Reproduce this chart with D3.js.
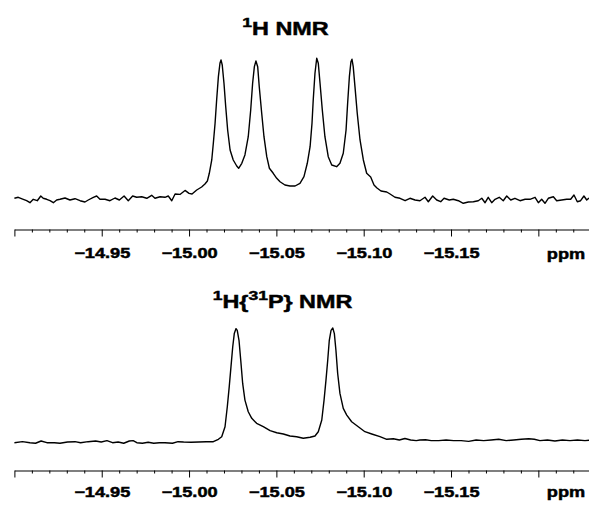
<!DOCTYPE html>
<html>
<head>
<meta charset="utf-8">
<script src="https://cdn.jsdelivr.net/npm/d3@7"></script>
<style>
  body { margin: 0; background: #fff; }
  svg { display: block; }
</style>
</head>
<body>
<div id="chart"></div>
<script>

// 1H NMR spectrum (hydride region), chemical shift in ppm / relative intensity
var topPpm = [-14.9000,-14.9022,-14.9051,-14.9070,-14.9089,-14.9108,-14.9131,-14.9151,-14.9165,-14.9185,
  -14.9204,-14.9223,-14.9242,-14.9261,-14.9290,-14.9318,-14.9347,-14.9376,-14.9404,-14.9423,
  -14.9452,-14.9471,-14.9490,-14.9519,-14.9547,-14.9576,-14.9601,-14.9628,-14.9652,-14.9677,
  -14.9700,-14.9729,-14.9758,-14.9786,-14.9805,-14.9834,-14.9862,-14.9881,-14.9901,-14.9920,
  -14.9948,-14.9977,-15.0000,-15.0017,-15.0044,-15.0072,-15.0091,-15.0105,-15.0116,-15.0130,
  -15.0139,-15.0149,-15.0158,-15.0168,-15.0177,-15.0183,-15.0190,-15.0200,-15.0210,-15.0221,
  -15.0235,-15.0253,-15.0273,-15.0284,-15.0302,-15.0320,-15.0339,-15.0353,-15.0364,-15.0374,
  -15.0383,-15.0393,-15.0402,-15.0416,-15.0429,-15.0445,-15.0460,-15.0482,-15.0502,-15.0521,
  -15.0549,-15.0578,-15.0607,-15.0635,-15.0658,-15.0677,-15.0693,-15.0704,-15.0711,-15.0721,
  -15.0731,-15.0740,-15.0750,-15.0763,-15.0778,-15.0797,-15.0817,-15.0845,-15.0864,-15.0883,
  -15.0899,-15.0908,-15.0918,-15.0927,-15.0933,-15.0940,-15.0950,-15.0963,-15.0979,-15.0998,
  -15.1017,-15.1040,-15.1059,-15.1076,-15.1099,-15.1132,-15.1151,-15.1179,-15.1208,-15.1237,
  -15.1265,-15.1294,-15.1322,-15.1351,-15.1370,-15.1395,-15.1418,-15.1441,-15.1460,-15.1490,
  -15.1513,-15.1542,-15.1570,-15.1599,-15.1628,-15.1656,-15.1676,-15.1695,-15.1713,-15.1733,
  -15.1752,-15.1776,-15.1799,-15.1819,-15.1842,-15.1866,-15.1895,-15.1924,-15.1952,-15.1981,
  -15.2000,-15.2019,-15.2038,-15.2057,-15.2086,-15.2105,-15.2134,-15.2162,-15.2185,-15.2204,
  -15.2223,-15.2242,-15.2261,-15.2277,-15.2290];
var topInt = [1.2,1.9,0.5,-0.5,-1.9,0.5,-0.5,2.8,1.2,0.5,
  -0.5,-1.9,0,0.5,1.4,0,0.9,-0.5,-1.4,0,
  1.9,2.8,0.5,0.5,-0.5,1.4,0,2.8,-0.5,2.8,
  1.9,2.3,1.2,3.3,1.2,2.3,1.9,2.8,-0.5,4.2,
  3.9,6.7,4.6,4.2,7.0,9.1,11.2,13.3,18.7,28.0,
  39.7,53.7,70.0,86.3,95.7,98.0,94.5,81.7,65.3,49.0,
  35.0,28.0,23.8,22.2,25.7,31.5,44.3,63.0,81.7,93.3,
  97.3,93.3,79.3,60.7,44.3,30.3,22.2,18.7,15.2,12.8,
  10.5,9.8,9.8,11.7,16.3,25.7,37.3,53.7,70.0,88.7,
  99.2,95.7,81.7,63.0,44.3,30.3,24.5,23.3,25.7,32.7,
  49.0,67.7,86.3,96.8,98.5,93.3,79.3,60.7,42.0,28.0,
  18.7,16.1,10.5,8.4,6.3,5.6,4.2,1.9,1.2,-0.5,
  1.2,0,-0.5,1.9,-1.2,2.8,0,-1.2,1.2,0,
  0.5,-0.5,-2.3,-1.4,-1.2,-0.5,1.2,-1.9,1.9,-1.9,
  0.5,1.9,-0.5,2.8,0,1.2,-0.5,0.5,0.5,1.9,
  -1.9,0.5,-2.3,1.2,2.3,-0.5,0,0.5,0.5,3.5,
  -1.2,-0.5,2.8,0,1.4];

// 1H{31P} NMR spectrum
var botPpm = [-14.9000,-14.9046,-14.9089,-14.9121,-14.9153,-14.9186,-14.9229,-14.9261,-14.9304,-14.9347,
  -14.9379,-14.9422,-14.9465,-14.9497,-14.9530,-14.9562,-14.9594,-14.9626,-14.9658,-14.9680,
  -14.9701,-14.9733,-14.9766,-14.9798,-14.9830,-14.9862,-14.9905,-14.9937,-14.9969,-15.0012,
  -15.0055,-15.0098,-15.0139,-15.0168,-15.0187,-15.0206,-15.0219,-15.0230,-15.0240,-15.0250,
  -15.0259,-15.0269,-15.0276,-15.0286,-15.0296,-15.0307,-15.0320,-15.0339,-15.0359,-15.0387,
  -15.0425,-15.0464,-15.0502,-15.0540,-15.0578,-15.0616,-15.0654,-15.0693,-15.0721,-15.0740,
  -15.0760,-15.0773,-15.0784,-15.0794,-15.0803,-15.0813,-15.0823,-15.0832,-15.0841,-15.0851,
  -15.0864,-15.0883,-15.0903,-15.0931,-15.0969,-15.1007,-15.1046,-15.1093,-15.1132,-15.1170,
  -15.1204,-15.1236,-15.1269,-15.1301,-15.1322,-15.1354,-15.1387,-15.1429,-15.1472,-15.1515,
  -15.1558,-15.1601,-15.1644,-15.1687,-15.1730,-15.1773,-15.1816,-15.1859,-15.1902,-15.1945,
  -15.1977,-15.2009,-15.2052,-15.2095,-15.2138,-15.2181,-15.2224,-15.2267,-15.2290];
var botInt = [-1.5,-0.6,-1.5,-2.0,0,-1.5,-1.5,-2.0,-0.9,-0.6,
  -1.5,-0.6,0,-0.9,0.3,-1.5,-0.9,-2.0,0,0.3,
  -1.5,-2.0,-1.1,-2.0,-1.5,-1.5,-2.0,-0.6,-0.9,-1.1,
  -0.9,-0.6,-0.6,1.5,3.8,12.6,30.2,47.8,65.4,83.0,
  94.8,99.2,97.7,88.9,71.3,50.8,36.1,25.8,20.0,15.6,
  12.6,9.1,7.3,6.2,4.4,3.8,2.4,3.3,4.4,8.2,
  18.5,36.1,53.7,71.3,88.9,97.7,99.7,94.8,80.1,59.6,
  42.0,28.8,22.9,17.0,12.6,8.2,6.2,3.8,1.5,2.0,
  0.9,2.2,0.9,0.3,0.9,1.1,0.3,0.3,0.9,0.3,
  0.3,-0.3,0.9,0.3,0.9,1.5,0.3,0.9,1.5,2.0,
  1.5,0.3,0.9,0,0.9,0.3,0.9,0.3,0.6];

// axis ticks (ppm)
var majorTicks = [-14.90, -14.95, -15.00, -15.05, -15.10, -15.15, -15.20];
var labelTicks = [-14.95, -15.00, -15.05, -15.10, -15.15];
var minorTicks = [-14.91, -14.92, -14.93, -14.94, -14.96, -14.97, -14.98, -14.99,
  -15.01, -15.02, -15.03, -15.04, -15.06, -15.07, -15.08, -15.09,
  -15.11, -15.12, -15.13, -15.14, -15.16, -15.17, -15.18, -15.19,
  -15.21, -15.22];
var unitLabel = "ppm";

var width = 589, height = 505;
var font = "'Liberation Sans', Arial, Helvetica, sans-serif";
var stretch = 1.3;   // the original lettering is horizontally wide
var heft = 0.45;     // extra stroke to match the heavy bold type

var svg = d3.select("#chart")
  .append("svg")
  .attr("width", width)
  .attr("height", height);

var x = d3.scaleLinear()
  .domain([-14.90, -15.23])
  .range([14.4, 14.4 + 0.33 * 1746.5]);

var panels = [
  { ppm: topPpm, inten: topInt, yRange: [200, 57.1], axisY: 229.5, labelY: 29,
    titleX: 285.5, titleY: 34.5,
    title: [["1", true], ["H NMR", false]] },
  { ppm: botPpm, inten: botInt, yRange: [441, 327.7], axisY: 470.5, labelY: 26.5,
    titleX: 282.5, titleY: 307.5,
    title: [["1", true], ["H{", false], ["31", true], ["P} NMR", false]] }
];

panels.forEach(function(p) {

  var y = d3.scaleLinear().domain([0, 100]).range(p.yRange);

  // Draw the title with superscripts
  var t = svg.append("text")
    .attr("transform", "translate(" + p.titleX + "," + p.titleY + ") scale(" + stretch + ",1)")
    .attr("text-anchor", "middle")
    .attr("font-family", font)
    .attr("font-weight", "bold")
    .attr("font-size", 18)
    .attr("fill", "#000")
    .attr("stroke", "#000")
    .attr("stroke-width", heft);
  var raised = false;
  p.title.forEach(function(part) {
    var dy = 0;
    if (part[1] && !raised) dy = -8;
    if (!part[1] && raised) dy = 8;
    raised = part[1];
    t.append("tspan")
      .attr("dy", dy)
      .attr("font-size", part[1] ? 13.5 : 18)
      .text(part[0]);
  });

  // Draw the spectrum trace
  var line = d3.line()
    .x(function(d) { return x(d[0]); })
    .y(function(d) { return y(d[1]); });

  svg.append("path")
    .datum(d3.zip(p.ppm, p.inten))
    .attr("d", line)
    .attr("fill", "none")
    .attr("stroke", "#000")
    .attr("stroke-width", 1.4)
    .attr("stroke-linejoin", "round");

  // Minor ticks
  svg.append("g")
    .attr("transform", "translate(0," + p.axisY + ")")
    .call(d3.axisBottom(x).tickValues(minorTicks).tickSize(3).tickFormat(""))
    .call(function(g) { g.select(".domain").remove(); })
    .selectAll("line")
    .attr("stroke", "#000");

  // Major ticks with labels
  var ax = svg.append("g")
    .attr("transform", "translate(0," + p.axisY + ")")
    .call(d3.axisBottom(x)
      .tickValues(majorTicks)
      .tickSize(7)
      .tickSizeOuter(0)
      .tickFormat(function(d) {
        return labelTicks.indexOf(d) >= 0 ? d3.format(".2f")(d) : "";
      }));

  ax.select(".domain")
    .attr("stroke", "#000")
    .attr("stroke-width", 1.2);
  ax.selectAll(".tick line")
    .attr("stroke", "#000");
  ax.selectAll(".tick text")
    .attr("y", p.labelY)
    .attr("dy", null)
    .attr("transform", "scale(" + stretch + ",1)")
    .attr("font-family", font)
    .attr("font-weight", "bold")
    .attr("font-size", 14)
    .attr("fill", "#000")
    .attr("stroke", "#000")
    .attr("stroke-width", heft);

  // Unit label at the right end of the axis
  svg.append("text")
    .attr("transform", "translate(566," + (p.axisY + p.labelY) + ") scale(" + stretch + ",1)")
    .attr("text-anchor", "middle")
    .attr("font-family", font)
    .attr("font-weight", "bold")
    .attr("font-size", 14)
    .attr("fill", "#000")
    .attr("stroke", "#000")
    .attr("stroke-width", heft)
    .text(unitLabel);
});

</script>
</body>
</html>
